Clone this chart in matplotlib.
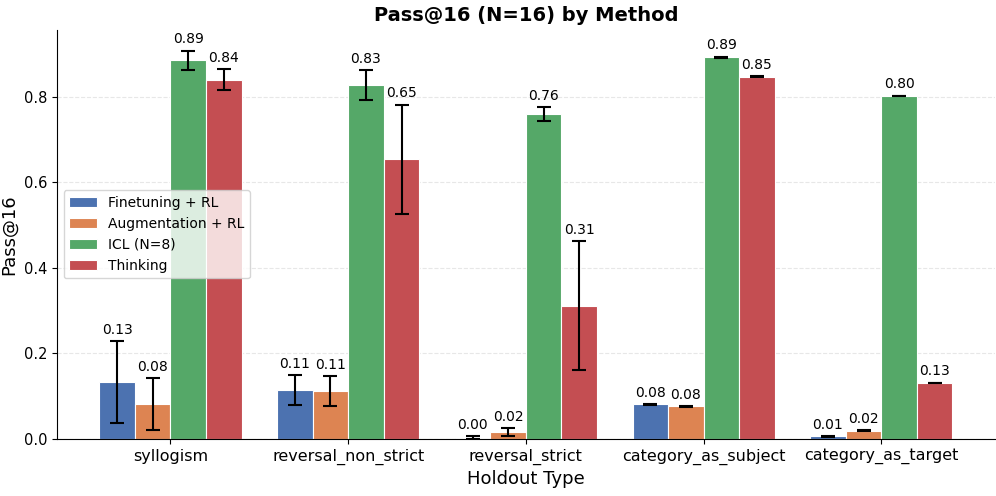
import matplotlib.pyplot as plt
import numpy as np

holdouts = ["syllogism", "reversal_non_strict", "reversal_strict",
            "category_as_subject", "category_as_target"]
methods = ["Finetuning + RL", "Augmentation + RL", "ICL (N=8)", "Thinking"]

finetune = [0.133, 0.114, 0.003, 0.081, 0.006]
finetune_err = [0.096, 0.035, 0.003, 0.001, 0.001]
augment = [0.082, 0.112, 0.016, 0.076, 0.019]
augment_err = [0.061, 0.035, 0.009, 0.001, 0.001]
icl = [0.886, 0.828, 0.760, 0.893, 0.802]
icl_err = [0.022, 0.035, 0.016, 0.001, 0.001]
thinking = [0.840, 0.654, 0.312, 0.847, 0.131]
thinking_err = [0.025, 0.128, 0.151, 0.001, 0.001]

colors = ["#4C72B0", "#DD8452", "#55A868", "#C44E52"]

fig, ax = plt.subplots(figsize=(9.96, 4.96), dpi=100)
x = np.arange(len(holdouts))
width = 0.2
series = [(finetune, finetune_err), (augment, augment_err),
          (icl, icl_err), (thinking, thinking_err)]

for i, (vals, errs) in enumerate(series):
    pos = x + (i - 1.5) * width
    ax.bar(pos, vals, width, yerr=errs, color=colors[i], label=methods[i],
           edgecolor="white", linewidth=0.8, capsize=5,
           error_kw=dict(elinewidth=1.5, capthick=1.5, ecolor="black"))
    for p, v, e in zip(pos, vals, errs):
        ax.text(p, v + e + 0.01, f"{v:.2f}", ha="center", va="bottom", fontsize=10)

ax.set_xticks(x)
ax.set_xticklabels(holdouts, fontsize=11.5)
ax.tick_params(axis="y", labelsize=10.5)
ax.set_xlim(-0.64, 4.64)
ax.set_ylim(0, 0.957)
ax.set_xlabel("Holdout Type", fontsize=13)
ax.set_ylabel("Pass@16", fontsize=13)
ax.set_title("Pass@16 (N=16) by Method", fontsize=14, fontweight="bold")
ax.yaxis.grid(True, linestyle="--", alpha=0.3)
ax.set_axisbelow(True)
ax.spines["top"].set_visible(False)
ax.spines["right"].set_visible(False)
ax.legend(loc="center left", fontsize=10, framealpha=0.8)

plt.subplots_adjust(left=0.057, right=0.999, top=0.94, bottom=0.115)
plt.savefig("out.png", dpi=100)
